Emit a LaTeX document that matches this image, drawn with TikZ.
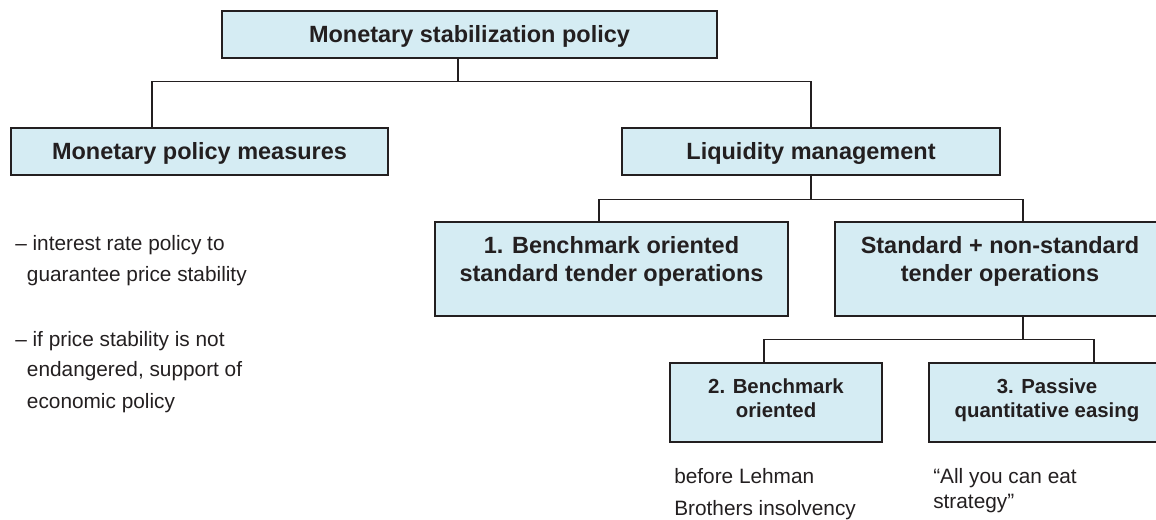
\documentclass[tikz,border=0pt]{standalone}
\usepackage{fontspec}
\setmainfont{Liberation Sans}
\definecolor{boxfill}{RGB}{213,236,243}
\definecolor{ink}{RGB}{35,31,32}
\tikzset{
  box/.style={draw=ink, line width=1pt, fill=boxfill, text=ink, align=center, inner sep=0pt,
    font=\fontsize{16.7}{19.7}\selectfont\bfseries},
  smallbox/.style={box, font=\fontsize{14.5}{17.4}\selectfont\bfseries},
  wire/.style={draw=ink, line width=0.75pt},
  note/.style={anchor=base west, inner sep=0pt, text=ink, font=\fontsize{14.8}{18}\selectfont},
}

\begin{document}
\begin{tikzpicture}
\useasboundingbox (0,0) rectangle (28.9,12.975) ;

\node (policy) at (11.7375,12.1125) [box, minimum width=12.375cm, minimum height=1.175cm, text height=12pt, text depth=0pt] {Monetary stabilization policy} ;
\node (measures) at (4.9875,9.1875) [box, minimum width=9.425cm, minimum height=1.175cm, text height=12pt, text depth=0pt] {Monetary policy measures} ;
\node (liquidity) at (20.275,9.1875) [box, minimum width=9.45cm, minimum height=1.175cm, text height=12pt, text depth=0pt] {Liquidity management} ;
\node (bench1) at (15.2875,6.25) [box, minimum width=8.825cm, minimum height=2.35cm, text height=31.8pt, text depth=13.8pt] {1. Benchmark oriented\\standard tender operations} ;
\node (tender) at (25,6.25) [box, minimum width=8.25cm, minimum height=2.35cm, text height=31.8pt, text depth=13.8pt] {Standard + non-standard\\tender operations} ;
\node (bench2) at (19.4,2.9125) [smallbox, minimum width=5.3cm, minimum height=1.975cm, text height=29.5pt, text depth=8.2pt] {2. Benchmark\\oriented} ;
\node (passive) at (26.175,2.9125) [smallbox, minimum width=5.9cm, minimum height=1.975cm, text height=29.5pt, text depth=8.2pt] {3. Passive\\quantitative easing} ;

\draw [wire] ([xshift=-0.2875cm]policy.south) -- ++(0,-0.575) -| ([xshift=-1.1875cm]measures.north) ;
\draw [wire] ([xshift=-0.2875cm]policy.south) -- ++(0,-0.575) -| (liquidity.north) ;
\draw [wire] (liquidity.south) -- ++(0,-0.6) -| ([xshift=-0.3125cm]bench1.north) ;
\draw [wire] (liquidity.south) -- ++(0,-0.6) -| ([xshift=0.575cm]tender.north) ;
\draw [wire] ([xshift=0.575cm]tender.south) -- ++(0,-0.575) -| ([xshift=-0.3cm]bench2.north) ;
\draw [wire] ([xshift=0.575cm]tender.south) -- ++(0,-0.575) -| ([xshift=1.175cm]passive.north) ;

\node (rate1) at (0.375,6.725) [note] {– interest rate policy to} ;
\node (rate2) at (0.6675,5.9325) [note] {guarantee price stability} ;
\node (econ1) at (0.375,4.325) [note] {– if price stability is not} ;
\node (econ2) at (0.6675,3.5575) [note] {endangered, support of} ;
\node (econ3) at (0.6675,2.775) [note] {economic policy} ;
\node (lehman1) at (16.85,0.9) [note] {before Lehman} ;
\node (lehman2) at (16.85,0.1) [note] {Brothers insolvency} ;
\node (eat1) at (23.325,0.9) [note] {“All you can eat} ;
\node (eat2) at (23.325,0.275) [note] {strategy”} ;
\end{tikzpicture}
\end{document}
